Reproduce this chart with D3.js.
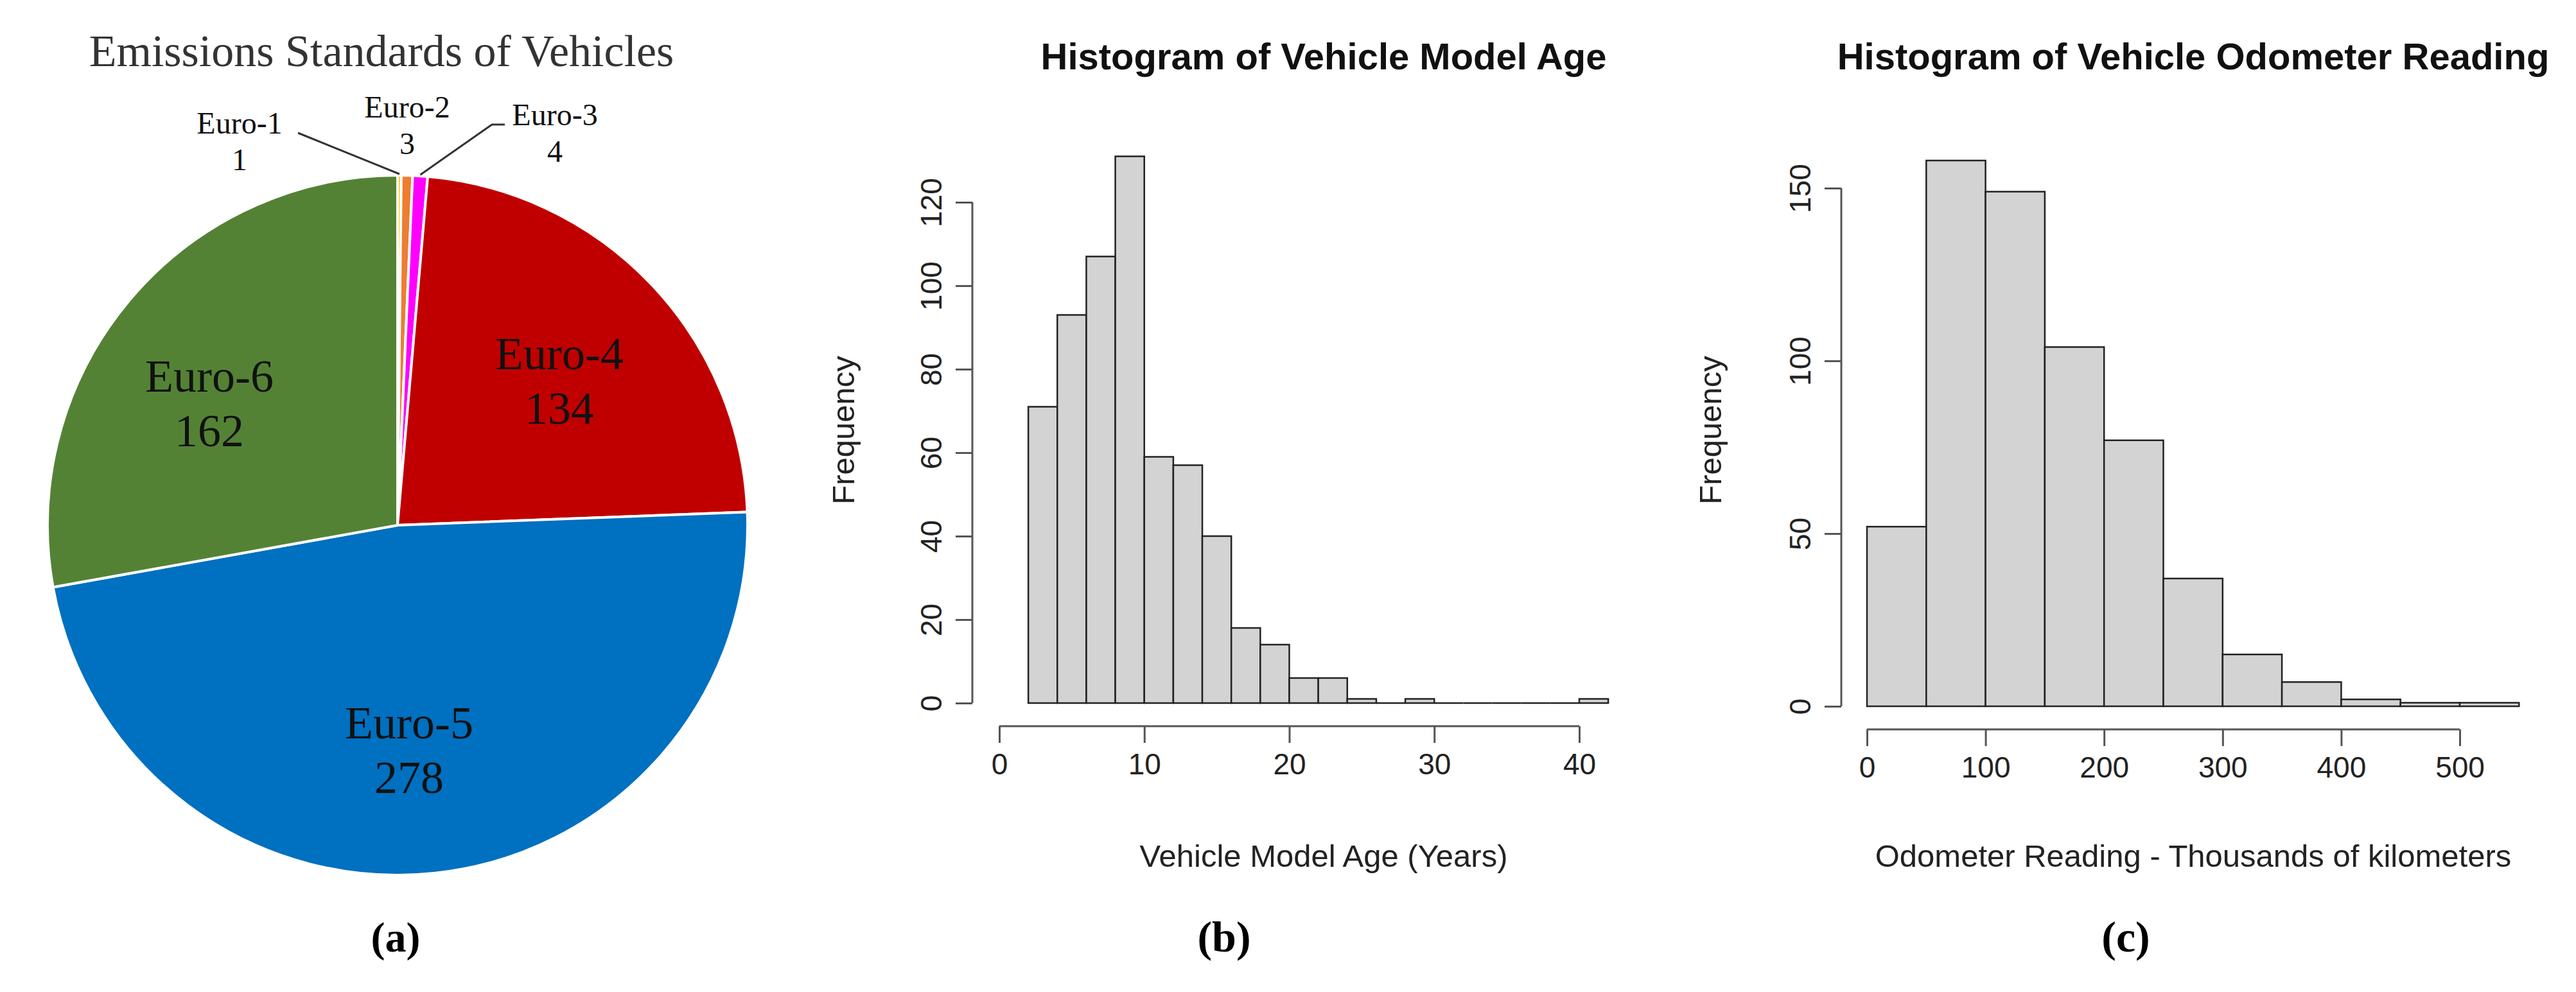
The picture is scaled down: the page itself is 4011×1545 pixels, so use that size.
<!DOCTYPE html>
<html><head><meta charset="utf-8">
<script src="https://cdn.jsdelivr.net/npm/d3@7"></script>
<style>body{margin:0;background:#fff}</style>
</head><body>
<svg id="c" width="4011" height="1545"></svg>
<script>
// pie data
const pieLabels = ["Euro-1", "Euro-2", "Euro-3", "Euro-4", "Euro-5", "Euro-6"];
const pieValues = [1, 3, 4, 134, 278, 162];
const pieColors = ["#FFC000", "#ED7D31", "#FF00FF", "#C00000", "#0070C0", "#548235"];

// model age histogram
const ageBreaks = [2,4,6,8,10,12,14,16,18,20,22,24,26,28,30,32,34,36,38,40,42];
const ageCounts = [71,93,107,131,59,57,40,18,14,6,6,1,0,1,0,0,0,0,0,1];
const ageTicksX = [0,10,20,30,40];
const ageTicksY = [0,20,40,60,80,100,120];

// odometer histogram
const odoBreaks = [0,50,100,150,200,250,300,350,400,450,500,550];
const odoCounts = [52,158,149,104,77,37,15,7,2,1,1];
const odoTicksX = [0,100,200,300,400,500];
const odoTicksY = [0,50,100,150];

const svg = d3.select("#c");
const serif = "'Liberation Serif', 'Times New Roman', serif";
const sans = "'Liberation Sans', Arial, sans-serif";

// ---------- (a) pie ----------
const cx = 619, cy = 818, R = 545;
const pg = svg.append("g").attr("transform", `translate(${cx},${cy})`);
const arcs = d3.pie().sort(null).value(d => d)(pieValues);
const arc = d3.arc().innerRadius(0).outerRadius(R);
pg.selectAll("path").data(arcs).join("path")
    .attr("d", arc)
    .attr("fill", (d, i) => pieColors[i])
    .attr("stroke", "#fff").attr("stroke-width", 4);

svg.append("text").attr("x", 594).attr("y", 103).attr("text-anchor", "middle")
    .attr("font-family", serif).attr("font-size", 70).attr("fill", "#333")
    .text("Emissions Standards of Vehicles");

// big labels inside
const bigPos = {3: [871, 575], 4: [637, 1150], 5: [326, 610]};
const smallPos = {0: [373, 208], 1: [634, 183], 2: [864, 195]};
arcs.forEach((d, i) => {
    const big = bigPos[i] !== undefined;
    const p = big ? bigPos[i] : smallPos[i];
    const fs = big ? 72 : 48;
    const t = svg.append("text").attr("text-anchor", "middle")
        .attr("font-family", serif).attr("font-size", fs).attr("fill", "#111");
    t.append("tspan").attr("x", p[0]).attr("y", p[1]).text(pieLabels[i]);
    t.append("tspan").attr("x", p[0]).attr("y", p[1] + fs * 1.18).text(pieValues[i]);
});
// leader lines for tiny slices
const edge = d => {
    const a = (d.startAngle + d.endAngle) / 2;
    return [cx + Math.sin(a) * (R + 2), cy - Math.cos(a) * (R + 2)];
};
const e1 = edge(arcs[0]), e3 = edge(arcs[2]);
svg.append("path").attr("d", d3.line()([[464, 207], e1]))
    .attr("stroke", "#333").attr("stroke-width", 3).attr("fill", "none");
svg.append("path").attr("d", d3.line()([[786, 194], [766, 194], e3]))
    .attr("stroke", "#333").attr("stroke-width", 3).attr("fill", "none");

svg.append("text").attr("x", 616).attr("y", 1482).attr("text-anchor", "middle")
    .attr("font-family", serif).attr("font-size", 66).attr("font-weight", "bold").text("(a)");

// ---------- histograms ----------
function histogram(o) {
    const x = d3.scaleLinear().domain(o.xDom).range(o.xRange);
    const y = d3.scaleLinear().domain(o.yDom).range(o.yRange);
    const g = svg.append("g");
    const bins = o.counts.map((c, i) => ({x0: o.breaks[i], x1: o.breaks[i + 1], c}));
    // paths so that empty bins still show as a flat line like R
    g.selectAll("path.bar").data(bins).join("path").attr("class", "bar")
        .attr("d", d => `M${x(d.x0)},${y(0)}V${y(d.c)}H${x(d.x1)}V${y(0)}Z`)
        .attr("fill", "#d3d3d3").attr("stroke", "#222").attr("stroke-width", 2.5);

    // x axis (R style: spans first to last tick)
    const xa = g.append("g").attr("transform", `translate(0,${o.xAxisY})`)
        .call(d3.axisBottom(x).tickValues(o.ticksX).tickSize(26).tickSizeOuter(0).tickFormat(d3.format("d")));
    xa.select(".domain").remove();
    xa.append("line").attr("x1", x(o.ticksX[0])).attr("x2", x(o.ticksX[o.ticksX.length - 1]))
        .attr("stroke", "#555").attr("stroke-width", 3);
    xa.selectAll(".tick line").attr("stroke", "#555").attr("stroke-width", 3);
    xa.selectAll(".tick text").attr("font-family", sans).attr("font-size", 46)
        .attr("fill", "#222").attr("dy", "1.0em");

    const ya = g.append("g").attr("transform", `translate(${o.yAxisX},0)`)
        .call(d3.axisLeft(y).tickValues(o.ticksY).tickSize(26).tickSizeOuter(0));
    ya.select(".domain").remove();
    ya.append("line").attr("y1", y(o.ticksY[0])).attr("y2", y(o.ticksY[o.ticksY.length - 1]))
        .attr("stroke", "#555").attr("stroke-width", 3);
    ya.selectAll(".tick line").attr("stroke", "#555").attr("stroke-width", 3);
    ya.selectAll(".tick text").attr("font-family", sans).attr("font-size", 46).attr("fill", "#222")
        .attr("text-anchor", "middle").attr("x", 0)
        .attr("transform", "translate(-64,0) rotate(-90)").attr("dy", "0.35em");

    svg.append("text").attr("x", o.titleX).attr("y", 108).attr("text-anchor", "middle")
        .attr("font-family", sans).attr("font-weight", "bold").attr("font-size", 58).attr("fill", "#111")
        .text(o.title);
    svg.append("text").attr("x", o.titleX).attr("y", 1350).attr("text-anchor", "middle")
        .attr("font-family", sans).attr("font-size", 49).attr("fill", "#222").text(o.xlab);
    svg.append("text").attr("transform", `translate(${o.ylabX},${o.ylabY}) rotate(-90)`)
        .attr("text-anchor", "middle").attr("font-family", sans).attr("font-size", 49)
        .attr("fill", "#222").text("Frequency");
    svg.append("text").attr("x", o.tagX).attr("y", 1482).attr("text-anchor", "middle")
        .attr("font-family", serif).attr("font-size", 68).attr("font-weight", "bold").text(o.tag);
}

histogram({
    breaks: ageBreaks, counts: ageCounts, ticksX: ageTicksX, ticksY: ageTicksY,
    xDom: [0, 40], xRange: [1556, 2459], yDom: [0, 120], yRange: [1095, 315],
    xAxisY: 1131, yAxisX: 1514, title: "Histogram of Vehicle Model Age",
    xlab: "Vehicle Model Age (Years)", titleX: 2061, ylabX: 1330, ylabY: 670, tagX: 1906, tag: "(b)"
});
histogram({
    breaks: odoBreaks, counts: odoCounts, ticksX: odoTicksX, ticksY: odoTicksY,
    xDom: [0, 500], xRange: [2907, 3830], yDom: [0, 150], yRange: [1100, 293],
    xAxisY: 1136, yAxisX: 2867, title: "Histogram of Vehicle Odometer Reading",
    xlab: "Odometer Reading - Thousands of kilometers", titleX: 3415, ylabX: 2680, ylabY: 670, tagX: 3310, tag: "(c)"
});
</script>
</body></html>
